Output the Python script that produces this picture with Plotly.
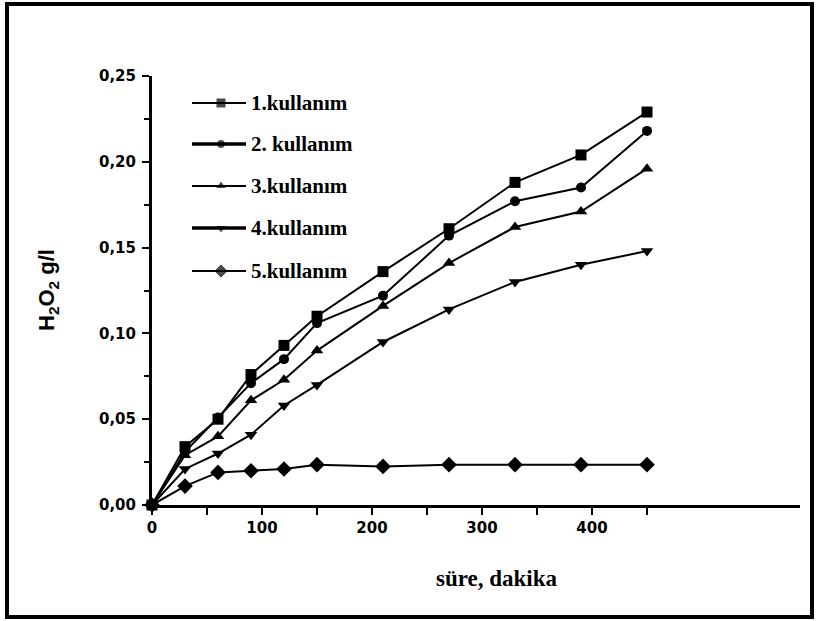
import plotly.graph_objects as go

# Reaction time (minutes)
sure = [0, 30, 60, 90, 120, 150, 210, 270, 330, 390, 450]

# H2O2 concentration (g/l) for each reuse cycle
k1 = [0.000, 0.034, 0.050, 0.076, 0.093, 0.110, 0.136, 0.161, 0.188, 0.204, 0.229]
k2 = [0.000, 0.031, 0.051, 0.071, 0.085, 0.106, 0.122, 0.157, 0.177, 0.185, 0.218]
k3 = [0.000, 0.029, 0.040, 0.061, 0.073, 0.090, 0.116, 0.141, 0.162, 0.171, 0.196]
k4 = [0.000, 0.021, 0.030, 0.041, 0.058, 0.070, 0.095, 0.114, 0.130, 0.140, 0.148]
k5 = [0.000, 0.011, 0.019, 0.020, 0.021, 0.0235, 0.0225, 0.0235, 0.0235, 0.0235, 0.0235]

series_names = ["1.kullanım", "2. kullanım", "3.kullanım", "4.kullanım", "5.kullanım"]
series_values = [k1, k2, k3, k4, k5]
symbols = ["square", "circle", "triangle-up", "triangle-down", "diamond"]
marker_sizes = [11, 10, 11, 11, 12]
legend_line_widths = [2, 3.5, 2, 3.5, 2]

x_ticks = [0, 100, 200, 300, 400]
x_minor = [50, 150, 250, 350, 450]
y_ticks = [0.00, 0.05, 0.10, 0.15, 0.20, 0.25]
y_minor = [0.025, 0.075, 0.125, 0.175, 0.225]

W, H = 818, 621
L, R, T, B = 152, 18, 76, 116
PW, PH = W - L - R, H - T - B


def px(xp):
    return (xp - L) / PW


def py(yp):
    return (H - B - yp) / PH


fig = go.Figure()

for name, vals, sym, ms in zip(series_names, series_values, symbols, marker_sizes):
    fig.add_trace(go.Scatter(
        x=sure, y=vals, name=name, mode="lines+markers",
        line=dict(color="black", width=2),
        marker=dict(symbol=sym, size=ms, color="black"),
        cliponaxis=False, showlegend=False,
    ))

# Hand-built legend: sample line + marker + serif label
leg_x0, leg_x1, leg_mx, leg_tx = 192, 246, 221, 249
leg_rows = [103, 144, 186, 228, 271]
shapes = []
annotations = []
for name, sym, lw, ry in zip(series_names, symbols, legend_line_widths, leg_rows):
    shapes.append(dict(type="line", xref="paper", yref="paper",
                       x0=px(leg_x0), x1=px(leg_x1), y0=py(ry), y1=py(ry),
                       line=dict(color="black", width=lw)))
    annotations.append(dict(text=name, xref="paper", yref="paper",
                            x=px(leg_tx), y=py(ry), xanchor="left", yanchor="middle",
                            showarrow=False,
                            font=dict(family="Liberation Serif", size=21, color="black", weight="bold")))
fig.add_trace(go.Scatter(
    x=[leg_mx] * 5, y=leg_rows, mode="markers", xaxis="x2", yaxis="y2",
    marker=dict(symbol=symbols, size=[s - 1 for s in marker_sizes], color="black"),
    showlegend=False, hoverinfo="skip", cliponaxis=False,
))

# Outer frame
frame = dict(color="black", width=4)
fl, ft, fr, fb = 7, 4, 812, 617
shapes += [
    dict(type="rect", xref="paper", yref="paper", x0=px(fl), x1=px(fr), y0=py(ft), y1=py(fb), line=frame),
]

# Axis titles
annotations.append(dict(text="H<sub>2</sub>O<sub>2</sub> g/l", xref="paper", yref="paper",
                        x=px(48), y=py(290), xanchor="center", yanchor="middle",
                        textangle=-90, showarrow=False,
                        font=dict(family="Liberation Sans", size=22, color="black", weight="bold")))
annotations.append(dict(text="süre, dakika", xref="paper", yref="paper",
                        x=px(497), y=py(578), xanchor="center", yanchor="middle",
                        showarrow=False,
                        font=dict(family="Liberation Serif", size=23, color="black", weight="bold")))

tick_font = dict(family="DejaVu Sans", size=15, color="black", weight="bold")

fig.update_layout(
    width=W, height=H,
    margin=dict(l=L, r=R, t=T, b=B, pad=0),
    paper_bgcolor="white", plot_bgcolor="white",
    showlegend=False,
    shapes=shapes, annotations=annotations,
    xaxis=dict(
        range=[0, PW / 1.1], showgrid=False, zeroline=False,
        showline=True, linecolor="black", linewidth=3,
        ticks="outside", ticklen=7, tickwidth=2, tickcolor="black",
        tickvals=x_ticks, ticktext=[str(v) for v in x_ticks],
        minor=dict(tickvals=x_minor, ticks="outside", ticklen=7, tickwidth=2, tickcolor="black"),
        tickfont=tick_font, fixedrange=True,
    ),
    yaxis=dict(
        range=[0, 0.25], showgrid=False, zeroline=False,
        showline=True, linecolor="black", linewidth=3,
        ticks="outside", ticklen=7, tickwidth=2, tickcolor="black",
        tickvals=y_ticks, ticktext=[f"{v:.2f}".replace(".", ",") for v in y_ticks],
        minor=dict(tickvals=y_minor, ticks="outside", ticklen=5, tickwidth=2, tickcolor="black"),
        tickfont=tick_font, ticklabelstandoff=3, fixedrange=True,
    ),
    xaxis2=dict(range=[L, W - R], overlaying="x", visible=False, fixedrange=True),
    yaxis2=dict(range=[H - B, T], overlaying="y", visible=False, fixedrange=True),
)

fig.write_html("out.html")
